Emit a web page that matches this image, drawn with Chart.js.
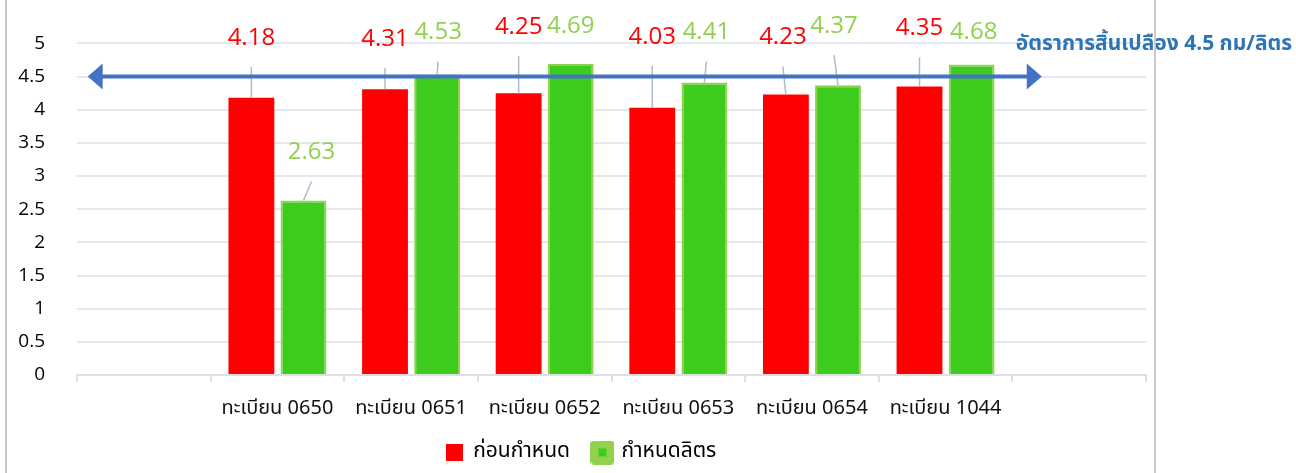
<!DOCTYPE html>
<html>
<head>
<meta charset="utf-8">
<script src="https://cdn.jsdelivr.net/npm/chart.js@4/dist/chart.umd.min.js"></script>
<style>
  html, body { margin: 0; padding: 0; background: #fff; }
  #wrap { position: relative; width: 1296px; height: 473px; overflow: hidden; }
  .edge { position: absolute; top: 0; bottom: 0; width: 2px; background: #c9c9c9; }
</style>
</head>
<body>
<div id="wrap">
  <canvas id="fuelChart" width="1296" height="473"></canvas>
  <div class="edge" style="left:5px"></div>
  <div class="edge" style="left:1154px"></div>
</div>
<script>
// chart data
const categories = ['', 'ทะเบียน 0650', 'ทะเบียน 0651', 'ทะเบียน 0652', 'ทะเบียน 0653', 'ทะเบียน 0654', 'ทะเบียน 1044', ''];
const beforeValues = [null, 4.18, 4.31, 4.25, 4.03, 4.23, 4.35, null];
const setValues = [null, 2.63, 4.53, 4.69, 4.41, 4.37, 4.68, null];
const yTicks = [0, 0.5, 1, 1.5, 2, 2.5, 3, 3.5, 4, 4.5, 5];
const seriesNames = ['ก่อนกำหนด', 'กำหนดลิตร'];
const targetRate = 4.5;
const targetText = 'อัตราการสิ้นเปลือง 4.5 กม/ลิตร';

// where each value label sits: px above the bar top, px sideways
const beforeLift = [0, 60, 50, 66, 71, 57, 58, 0];
const beforeShift = [0, 0, 0, 0, 0, -3, 0, 0];
const setLift = [0, 48, 42, 38, 50, 59, 32, 0];
const setShift = [0, 8, 1, 0, 2, -4, 2, 0];

const RED = '#ff0000';
const GREEN = '#3dcc1d';
const LIGHT_GREEN = '#92d050';
const BLUE = '#4472c4';
const NUM_FONT = "'Open Sans', 'Noto Sans', sans-serif";
const THAI_FONT = "Tahoma, 'Noto Sans Thai', 'Noto Sans', 'DejaVu Sans', sans-serif";

function legendIcon(kind) {
  const c = document.createElement('canvas');
  if (kind === 0) {
    c.width = 17; c.height = 17;
    const g = c.getContext('2d');
    g.fillStyle = RED;
    g.fillRect(0, 0, 17, 17);
  } else {
    c.width = 24; c.height = 24;
    const g = c.getContext('2d');
    g.fillStyle = LIGHT_GREEN;
    g.beginPath();
    g.roundRect(0, 0, 24, 24, 4);
    g.fill();
    g.fillStyle = GREEN;
    g.fillRect(8, 8, 8, 8);
  }
  return c;
}

const notes = [
  { lift: beforeLift, shift: beforeShift, color: RED },
  { lift: setLift, shift: setShift, color: LIGHT_GREEN }
];

const barNotes = {
  id: 'barNotes',
  afterDatasetsDraw(chart) {
    const ctx = chart.ctx;
    const x = chart.scales.x, y = chart.scales.y;
    // leader lines first
    ctx.save();
    ctx.strokeStyle = '#aebbcc';
    ctx.lineWidth = 1.5;
    chart.data.datasets.forEach((ds, di) => {
      chart.getDatasetMeta(di).data.forEach((bar, i) => {
        if (ds.data[i] == null) return;
        const lx = bar.x + notes[di].shift[i];
        const ly = bar.y - notes[di].lift[i];
        const top = ly + 29;
        if (bar.y - top > 10) {
          ctx.beginPath();
          ctx.moveTo(lx, top);
          ctx.lineTo(bar.x, bar.y);
          ctx.stroke();
        }
      });
    });
    ctx.restore();

    // target arrow at 4.5
    const ay = y.getPixelForValue(targetRate);
    const x0 = x.getPixelForValue(-0.42);
    const x1 = x.getPixelForValue(6.72);
    ctx.save();
    ctx.strokeStyle = BLUE;
    ctx.fillStyle = BLUE;
    ctx.lineWidth = 4;
    ctx.beginPath();
    ctx.moveTo(x0 + 12, ay);
    ctx.lineTo(x1 - 12, ay);
    ctx.stroke();
    ctx.beginPath();
    ctx.moveTo(x0, ay);
    ctx.lineTo(x0 + 15, ay - 13);
    ctx.lineTo(x0 + 15, ay + 13);
    ctx.closePath();
    ctx.fill();
    ctx.beginPath();
    ctx.moveTo(x1, ay);
    ctx.lineTo(x1 - 15, ay - 13);
    ctx.lineTo(x1 - 15, ay + 13);
    ctx.closePath();
    ctx.fill();
    ctx.fillStyle = '#2e75b6';
    ctx.font = "bold 21px " + THAI_FONT;
    ctx.textBaseline = 'middle';
    ctx.textAlign = 'left';
    ctx.fillText(targetText, x1 - 26, ay - 31);
    ctx.restore();

    // value labels
    ctx.save();
    ctx.font = "24px " + NUM_FONT;
    ctx.textAlign = 'center';
    ctx.textBaseline = 'middle';
    chart.data.datasets.forEach((ds, di) => {
      ctx.fillStyle = notes[di].color;
      chart.getDatasetMeta(di).data.forEach((bar, i) => {
        const v = ds.data[i];
        if (v == null) return;
        const lx = bar.x + notes[di].shift[i];
        const ly = bar.y - notes[di].lift[i];
        ctx.fillText(v.toFixed(2), lx, ly);
      });
    });
    ctx.restore();
  }
};

const ctx = document.getElementById('fuelChart').getContext('2d');
new Chart(ctx, {
  type: 'bar',
  data: {
    labels: categories,
    datasets: [
      {
        label: seriesNames[0],
        data: beforeValues,
        backgroundColor: RED,
        borderWidth: 0,
        categoryPercentage: 0.78,
        barPercentage: 0.88
      },
      {
        label: seriesNames[1],
        data: setValues,
        backgroundColor: GREEN,
        borderColor: LIGHT_GREEN,
        borderWidth: 2,
        categoryPercentage: 0.78,
        barPercentage: 0.88
      }
    ]
  },
  options: {
    responsive: false,
    animation: false,
    layout: { padding: { top: 41, right: 150, left: 16, bottom: 0 } },
    plugins: {
      tooltip: { enabled: false },
      legend: {
        position: 'bottom',
        labels: {
          usePointStyle: true,
          pointStyleWidth: 17,
          padding: 24,
          color: '#222',
          font: { family: THAI_FONT, size: 21 },
          generateLabels(chart) {
            return chart.data.datasets.map((ds, i) => ({
              text: ds.label,
              pointStyle: legendIcon(i),
              fillStyle: ds.backgroundColor,
              strokeStyle: ds.backgroundColor,
              lineWidth: 0,
              hidden: false,
              datasetIndex: i
            }));
          }
        }
      }
    },
    scales: {
      x: {
        grid: {
          offset: true,
          drawOnChartArea: false,
          drawTicks: true,
          tickLength: 7,
          color: '#dcdfe5',
          lineWidth: 2
        },
        border: { color: '#dcdfe5', width: 2 },
        ticks: {
          color: '#111',
          padding: 16,
          maxRotation: 0,
          autoSkip: false,
          font: { family: THAI_FONT, size: 20 }
        },
        afterFit(scale) { scale.height = 43; }
      },
      y: {
        min: 0,
        max: 5,
        afterBuildTicks(scale) { scale.ticks = yTicks.map(v => ({ value: v })); },
        grid: { color: '#e4e7ed', lineWidth: 2, drawTicks: false },
        border: { display: false },
        ticks: {
          color: '#000',
          padding: 32,
          font: { family: NUM_FONT, size: 19 },
          callback: v => String(v)
        },
        afterFit(scale) { scale.width = 61; }
      }
    }
  },
  plugins: [barNotes]
});
</script>
</body>
</html>
